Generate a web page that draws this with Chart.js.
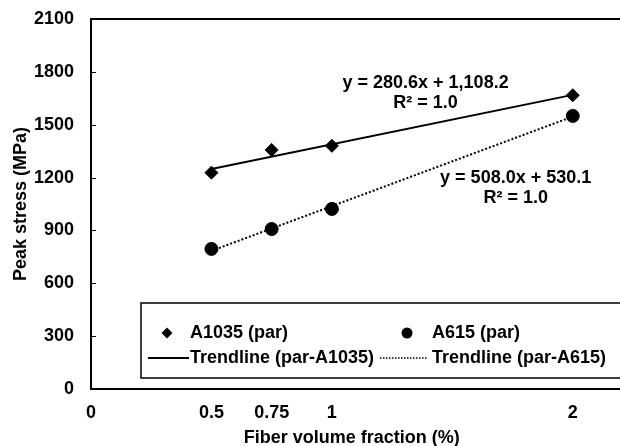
<!DOCTYPE html>
<html>
<head>
<meta charset="utf-8">
<script src="https://cdn.jsdelivr.net/npm/chart.js@4"></script>
<style>
  html, body { margin: 0; padding: 0; background: #fff; }
  #wrap { width: 620px; height: 446px; }
</style>
</head>
<body>
<div id="wrap"><canvas id="chart" width="620" height="446"></canvas></div>
<script>
// data
const xVals = [0.5, 0.75, 1, 2];
const a1035 = [1228, 1357, 1380, 1667];
const a615 = [795, 908, 1022, 1550];

// trendline end points (x = 0.5 and x = 2)
const trendX = [0.5, 2];
const trendA1035 = [1248.5, 1669.4];
const trendA615 = [784.1, 1546.1];

const xTicks = [0, 0.5, 0.75, 1, 2];
const yTicks = [0, 300, 600, 900, 1200, 1500, 1800, 2100];

const eqLabels = [
  { x: 1.389, y: 1737, text: "y = 280.6x + 1,108.2" },
  { x: 1.389, y: 1623, text: "R² = 1.0" },
  { x: 1.763, y: 1198, text: "y = 508.0x + 530.1" },
  { x: 1.763, y: 1084, text: "R² = 1.0" },
];

const FONT = "'Liberation Sans', Arial, sans-serif";
const pts = (xs, ys) => xs.map((x, i) => ({ x, y: ys[i] }));

// plot frame + small inside ticks on y
const framePlugin = {
  id: "frame",
  afterDatasetsDraw(chart){
    const { ctx, chartArea: a, scales } = chart;
    ctx.save();
    ctx.strokeStyle = "#000";
    ctx.lineWidth = 2;
    ctx.strokeRect(a.left, a.top, a.right + 20 - a.left, a.bottom - a.top);
    ctx.lineWidth = 1;
    for (const v of yTicks){
      const y = Math.round(scales.y.getPixelForValue(v)) + 0.5;
      ctx.beginPath();
      ctx.moveTo(a.left, y);
      ctx.lineTo(a.left + 5, y);
      ctx.stroke();
    }
    ctx.restore();
  }
};

// trendline equations
const eqPlugin = {
  id: "eq",
  afterDatasetsDraw(chart){
    const { ctx, scales } = chart;
    ctx.save();
    ctx.fillStyle = "#000";
    ctx.font = `bold 18px ${FONT}`;
    ctx.textAlign = "center";
    ctx.textBaseline = "middle";
    for (const l of eqLabels){
      ctx.fillText(l.text, scales.x.getPixelForValue(l.x), scales.y.getPixelForValue(l.y));
    }
    ctx.restore();
  }
};

// boxed legend inside the plot, like the Excel one
const legendPlugin = {
  id: "boxLegend",
  afterDraw(chart){
    const { ctx } = chart;
    const left = 141, top = 303, bottom = 378;
    ctx.save();
    ctx.fillStyle = "#fff";
    ctx.fillRect(left, top, 620 - left, bottom - top);
    ctx.strokeStyle = "#000";
    ctx.lineWidth = 1.5;
    ctx.strokeRect(left, top, 640 - left, bottom - top);

    const row1 = 333, row2 = 358;
    const ds = chart.data.datasets;
    // markers
    ctx.fillStyle = "#000";
    ctx.beginPath();
    ctx.moveTo(167, row1 - 5.5); ctx.lineTo(172.5, row1); ctx.lineTo(167, row1 + 5.5); ctx.lineTo(161.5, row1);
    ctx.closePath(); ctx.fill();
    ctx.beginPath(); ctx.arc(407, row1, 5.5, 0, Math.PI * 2); ctx.fill();
    // lines
    ctx.lineWidth = 2;
    ctx.beginPath(); ctx.moveTo(148, row2); ctx.lineTo(189, row2); ctx.stroke();
    ctx.lineWidth = 1.5;
    ctx.setLineDash([1.5, 1.5]);
    ctx.beginPath(); ctx.moveTo(380, row2); ctx.lineTo(427, row2); ctx.stroke();
    ctx.setLineDash([]);

    ctx.font = `bold 18px ${FONT}`;
    ctx.textAlign = "left";
    ctx.textBaseline = "middle";
    ctx.fillText(ds[0].label, 190, row1);
    ctx.fillText(ds[1].label, 432, row1);
    ctx.fillText(ds[2].label, 190, row2);
    ctx.fillText(ds[3].label, 432, row2);
    ctx.restore();
  }
};

new Chart(document.getElementById("chart"), {
  type: "scatter",
  data: {
    datasets: [
      {
        label: "A1035 (par)",
        data: pts(xVals, a1035),
        pointStyle: "rectRot",
        pointRadius: 6.5,
        backgroundColor: "#000",
        borderColor: "#000",
        order: 1,
      },
      {
        label: "A615 (par)",
        data: pts(xVals, a615),
        pointStyle: "circle",
        pointRadius: 6.5,
        backgroundColor: "#000",
        borderColor: "#000",
        order: 1,
      },
      {
        label: "Trendline (par-A1035)",
        type: "line",
        data: pts(trendX, trendA1035),
        borderColor: "#000",
        borderWidth: 2,
        pointRadius: 0,
        order: 2,
      },
      {
        label: "Trendline (par-A615)",
        type: "line",
        data: pts(trendX, trendA615),
        borderColor: "#000",
        borderWidth: 2,
        borderDash: [2, 2],
        pointRadius: 0,
        order: 2,
      },
    ]
  },
  options: {
    responsive: false,
    animation: false,
    layout: { padding: { top: 19, right: 0, left: 0, bottom: 0 } },
    plugins: {
      legend: { display: false },
      tooltip: { enabled: false },
    },
    scales: {
      x: {
        type: "linear",
        min: 0,
        max: 2.165,
        afterBuildTicks(scale){ scale.ticks = xTicks.map(v => ({ value: v })); },
        afterFit(scale){
          scale.height = 57;
          scale.paddingLeft = 0; scale.paddingRight = 0;
        },
        grid: { display: false, drawTicks: false },
        border: { display: false },
        ticks: {
          color: "#000",
          padding: 13,
          maxRotation: 0,
          autoSkip: false,
          font: { family: FONT, size: 18, weight: "bold" },
          callback: (v) => String(v),
        },
        title: {
          display: true,
          text: "Fiber volume fraction (%)",
          color: "#000",
          padding: { top: 0, bottom: -2.5 },
          font: { family: FONT, size: 18, weight: "bold" },
        },
      },
      y: {
        min: 0,
        max: 2100,
        afterBuildTicks(scale){ scale.ticks = yTicks.map(v => ({ value: v })); },
        afterFit(scale){
          scale.width = 91;
          scale.paddingTop = 0; scale.paddingBottom = 0;
        },
        grid: { display: false, drawTicks: false },
        border: { display: false },
        ticks: {
          color: "#000",
          padding: 17,
          font: { family: FONT, size: 18, weight: "bold" },
          callback: (v) => String(v),
        },
        title: {
          display: true,
          text: "Peak stress (MPa)",
          color: "#000",
          padding: { top: 10, bottom: 0 },
          font: { family: FONT, size: 18, weight: "bold" },
        },
      },
    }
  },
  plugins: [framePlugin, eqPlugin, legendPlugin],
});
</script>
</body>
</html>
